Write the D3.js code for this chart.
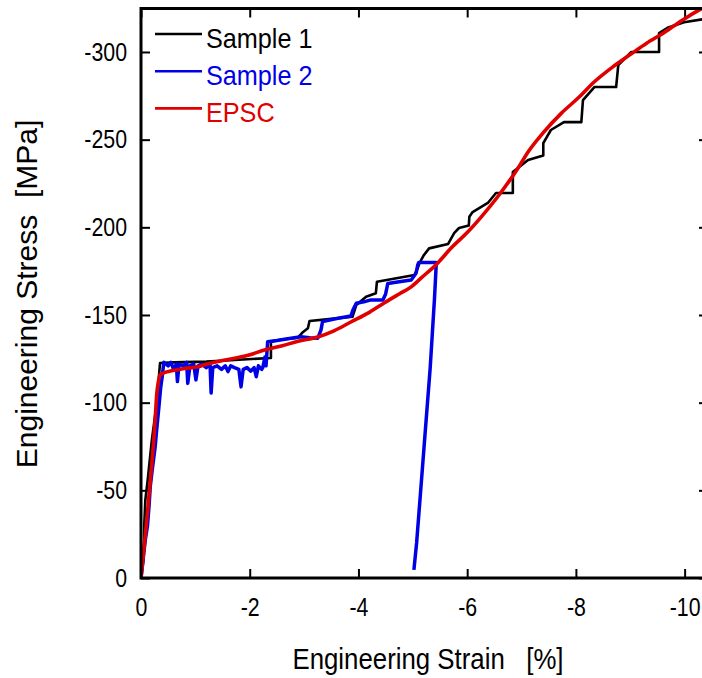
<!DOCTYPE html>
<html>
<head>
<meta charset="utf-8">
<script src="https://cdn.jsdelivr.net/npm/d3@7"></script>
<style>
  body { margin: 0; background: #fff; }
  svg { display: block; font-family: "Liberation Sans", Arial, sans-serif; }
</style>
</head>
<body>
<div id="graph"></div>
<script>
// strain [%], stress [MPa]
const sample1 = [
  [0, 0], [-0.02, -5], [-0.05, -12], [-0.06, -30], [-0.08, -44.5], [-0.12, -55],
  [-0.2, -78.7], [-0.29, -99.8], [-0.33, -115], [-0.35, -122.6], [-0.6, -123],
  [-1.2, -123.4], [-1.8, -124.5], [-2.39, -125.5], [-2.39, -134.8], [-2.6, -136],
  [-2.88, -137], [-2.97, -140], [-3.07, -142.4], [-3.1, -146.6], [-3.5, -147.8],
  [-3.89, -149], [-3.96, -155.7], [-4.14, -160.4], [-4.23, -161.4], [-4.32, -162.4],
  [-4.34, -169], [-4.7, -171], [-5.03, -172.8], [-5.09, -176.6], [-5.12, -179.5],
  [-5.2, -184], [-5.3, -188], [-5.65, -190.5], [-5.76, -196.7], [-5.85, -199.6],
  [-6.03, -201], [-6.04, -206], [-6.1, -208.7], [-6.38, -213.9], [-6.53, -219.6],
  [-6.84, -219.6], [-6.84, -231.6], [-7.12, -238.4], [-7.4, -241], [-7.4, -248],
  [-7.54, -255.5], [-7.78, -260], [-8.1, -260], [-8.13, -272.6], [-8.34, -280],
  [-8.74, -280], [-8.78, -292.6], [-9.02, -300], [-9.53, -300], [-9.53, -310.8],
  [-9.7, -314], [-9.99, -317], [-10.4, -319]
];

const sample2 = [
  [0, 0], [-0.03, -8], [-0.05, -14], [-0.08, -22], [-0.12, -30], [-0.15, -42],
  [-0.17, -52], [-0.2, -60], [-0.26, -74.7], [-0.29, -85], [-0.33, -97.7],
  [-0.36, -108], [-0.39, -114.8], [-0.42, -123], [-0.5, -121], [-0.55, -123],
  [-0.6, -119], [-0.65, -122], [-0.67, -112], [-0.7, -122], [-0.78, -121],
  [-0.84, -123], [-0.86, -111], [-0.9, -121], [-0.97, -122], [-1.01, -113],
  [-1.05, -121], [-1.12, -122], [-1.2, -120], [-1.27, -122], [-1.29, -105.5],
  [-1.32, -120], [-1.4, -121], [-1.48, -119], [-1.55, -121], [-1.6, -117.7],
  [-1.65, -121], [-1.72, -120], [-1.8, -119], [-1.84, -109], [-1.88, -119],
  [-1.95, -120], [-2.02, -118], [-2.08, -120], [-2.12, -114.8], [-2.16, -121],
  [-2.22, -119], [-2.24, -120], [-2.28, -126], [-2.3, -121], [-2.33, -134.8],
  [-2.5, -135.5], [-2.7, -136.5], [-2.94, -137.6], [-3.1, -137], [-3.25, -136.7],
  [-3.31, -141.4], [-3.34, -146.2], [-3.6, -148], [-3.86, -149.4], [-3.9, -153],
  [-3.96, -156.7], [-4.1, -157.5], [-4.23, -158.6], [-4.45, -158.6], [-4.5, -162],
  [-4.54, -168], [-4.75, -169], [-4.97, -170], [-5.06, -173.8], [-5.09, -178.5],
  [-5.11, -180], [-5.25, -180], [-5.43, -180], [-5.43, -178.5], [-5.4, -160],
  [-5.36, -140], [-5.32, -120], [-5.27, -100], [-5.22, -80], [-5.17, -60],
  [-5.12, -40], [-5.07, -20], [-5.02, -4.6]
];

const epsc = [
  [0, 0], [-0.14, -44.5], [-0.26, -90], [-0.29, -105], [-0.32, -112], [-0.35, -115.8],
  [-0.42, -117], [-0.54, -118], [-0.8, -119.5], [-1.05, -120.5], [-1.21, -122],
  [-1.5, -124], [-1.97, -127], [-2.27, -130], [-2.6, -132.5], [-2.89, -135],
  [-3.25, -137.5], [-3.55, -141], [-3.86, -146], [-4.2, -151.5], [-4.48, -157],
  [-4.75, -162], [-4.97, -166], [-5.15, -171], [-5.46, -179.7], [-5.7, -188],
  [-6.0, -197], [-6.26, -206], [-6.6, -219], [-6.94, -234], [-7.12, -243],
  [-7.4, -254], [-7.73, -265], [-8.05, -274], [-8.34, -283], [-8.7, -292],
  [-9.02, -299], [-9.3, -305], [-9.62, -311], [-9.95, -318], [-10.27, -324], [-10.45, -327]
];

const xTicks = [0, -2, -4, -6, -8, -10];
const yTicks = [0, -50, -100, -150, -200, -250, -300];
const seriesNames = ["Sample 1", "Sample 2", "EPSC"];
const seriesColors = ["#000000", "#0000e6", "#e00000"];

const W = 702, H = 678;
const plot = { left: 141, right: 708, top: 8.5, bottom: 578 };

// squash text horizontally, the original figure is a bit condensed
const squeeze = (sel, k) =>
  sel.each(function () {
    const len = this.getComputedTextLength();
    d3.select(this).attr("textLength", len * k).attr("lengthAdjust", "spacingAndGlyphs");
  });

const xScale = d3.scaleLinear().domain([0, -10.43]).range([plot.left, plot.right]);
const yScale = d3.scaleLinear().domain([0, -324.8]).range([plot.bottom, plot.top]);

const svg = d3
  .select("#graph")
  .append("svg")
  .attr("width", W)
  .attr("height", H);

svg.append("defs")
  .append("clipPath")
  .attr("id", "clip")
  .append("rect")
  .attr("x", plot.left)
  .attr("y", plot.top)
  .attr("width", plot.right - plot.left)
  .attr("height", plot.bottom - plot.top);

// axes, ticks pointing inward on all four sides
const fmt = (d) => String(d);
const gx = svg.append("g")
  .attr("transform", `translate(0,${plot.bottom})`)
  .call(d3.axisBottom(xScale).tickValues(xTicks).tickSizeInner(-9).tickSizeOuter(0).tickPadding(20).tickFormat(fmt));
const gy = svg.append("g")
  .attr("transform", `translate(${plot.left},0)`)
  .call(d3.axisLeft(yScale).tickValues(yTicks).tickSizeInner(-9).tickSizeOuter(0).tickPadding(14).tickFormat(fmt));
const gt = svg.append("g")
  .attr("transform", `translate(0,${plot.top})`)
  .call(d3.axisTop(xScale).tickValues(xTicks).tickSizeInner(-9).tickSizeOuter(0).tickFormat(""));
const gr = svg.append("g")
  .attr("transform", `translate(${plot.right},0)`)
  .call(d3.axisRight(yScale).tickValues(yTicks).tickSizeInner(-9).tickSizeOuter(0).tickFormat(""));

[gx, gy, gt, gr].forEach((g) => {
  g.select(".domain").remove();
  g.selectAll(".tick line").attr("stroke", "#000").attr("stroke-width", 2);
  g.selectAll(".tick text")
    .attr("fill", "#000")
    .style("font-size", "26px")
    .style("font-family", "'Liberation Sans', Arial, sans-serif");
});
squeeze(gx.selectAll(".tick text"), 0.82);
squeeze(gy.selectAll(".tick text"), 0.82);

const line = d3.line()
  .x((d) => xScale(d[0]))
  .y((d) => yScale(d[1]));

const data = [sample1, sample2, epsc];
const widths = [2.6, 3.5, 3.6];
data.forEach((ds, i) => {
  svg.append("path")
    .datum(ds)
    .attr("clip-path", "url(#clip)")
    .attr("fill", "none")
    .attr("stroke", seriesColors[i])
    .attr("stroke-width", widths[i])
    .attr("stroke-linejoin", "round")
    .attr("d", i === 2 ? line.curve(d3.curveMonotoneX)(ds) : line.curve(d3.curveLinear)(ds));
});

// frame
svg.append("rect")
  .attr("x", plot.left)
  .attr("y", plot.top)
  .attr("width", plot.right - plot.left)
  .attr("height", plot.bottom - plot.top)
  .attr("fill", "none")
  .attr("stroke", "#000")
  .attr("stroke-width", 3);

// legend
const legend = svg.append("g");
seriesNames.forEach((name, i) => {
  const ly = 34 + i * 37.2;
  legend.append("line")
    .attr("x1", 155).attr("x2", 202)
    .attr("y1", ly).attr("y2", ly)
    .attr("stroke", seriesColors[i])
    .attr("stroke-width", 2.6);
  legend.append("text")
    .attr("x", 206)
    .attr("y", ly + 14)
    .attr("fill", seriesColors[i])
    .style("font-size", "28px")
    .text(name);
});
squeeze(legend.selectAll("text"), 0.9);

// axis titles
const xt = svg.append("text")
  .attr("x", 428)
  .attr("y", 669)
  .attr("text-anchor", "middle")
  .style("font-size", "30px")
  .style("white-space", "pre")
  .text("Engineering Strain   [%]");
squeeze(xt, 0.86);
svg.append("text")
  .attr("transform", "translate(37,294) rotate(-90)")
  .attr("text-anchor", "middle")
  .style("font-size", "30px")
  .style("white-space", "pre")
  .text("Engineering Stress  [MPa]");
</script>
</body>
</html>
